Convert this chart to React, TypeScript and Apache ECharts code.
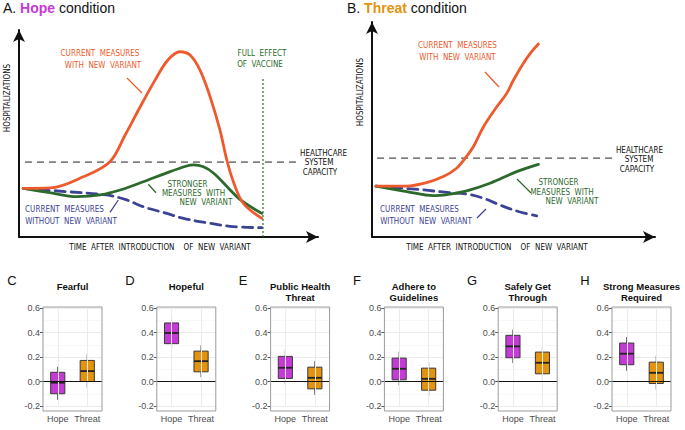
import React, { useEffect, useRef } from "react";
import * as echarts from "echarts";

// ---------- Top panels (schematic curves, time 0-100, hospitalizations 0-100) ----------
const hopeCurrentWithVariant = [
  [1.4, 23.5], [10.4, 23.7], [21.5, 29.1], [30.4, 36.4], [35.5, 49.3], [40.5, 62.8],
  [45.5, 75.8], [49.8, 85.5], [53.8, 89.5], [57.2, 87.9], [60.5, 80.7], [63.9, 67.8],
  [67.2, 51.7], [69.5, 37.2], [71.7, 26.7], [75.0, 16.3], [81.2, 9.0],
];
const hopeStrongerWithVariant = [
  [1.4, 23.5], [10.4, 21.4], [19.3, 19.5], [27.1, 20.3], [33.8, 22.7], [41.6, 26.7],
  [49.4, 31.0], [56.1, 34.3], [58.4, 34.8], [61.7, 33.9], [65.1, 30.8], [69.6, 24.3],
  [74.1, 17.9], [81.2, 11.4],
];
const hopeCurrentWithoutVariant = [
  [1.4, 23.5], [16.0, 21.9], [29.3, 20.3], [36.0, 17.9], [41.6, 14.6], [49.4, 11.4],
  [55.0, 9.0], [63.9, 6.6], [71.7, 5.0], [81.2, 4.5],
];
const hopeCapacity = [[2.0, 36.2], [93.3, 36.2]];
const hopeVaccine = [[81.6, 0], [81.6, 77.3]];

const threatCurrentWithVariant = [
  [1.4, 23.7], [12.3, 23.7], [19.3, 25.3], [25.2, 28.1], [29.9, 32.0], [32.9, 36.6],
  [35.8, 42.0], [39.4, 51.3], [44.1, 60.6], [47.6, 66.8], [50.0, 73.0], [53.5, 80.8],
  [56.4, 86.2], [58.8, 89.8],
];
const threatStrongerWithVariant = [
  [1.4, 23.7], [12.3, 21.1], [21.7, 19.2], [27.6, 20.0], [33.5, 21.5], [41.7, 25.0],
  [51.1, 30.4], [58.8, 33.8],
];
const threatCurrentWithoutVariant = [
  [1.4, 23.7], [18.1, 21.9], [27.6, 20.6], [33.5, 20.0], [39.4, 18.0], [45.2, 14.9],
  [51.1, 12.1], [58.2, 9.8],
];
const threatCapacity = [[1.8, 36.7], [85.2, 36.7]];

// ---------- Bottom panels (boxplots: [lower whisker, Q1, median, Q3, upper whisker]) ----------
const conditions = ["Hope", "Threat"];
const panelLetters = ["C", "D", "E", "F", "G", "H"];
const panelTitles = [
  "Fearful",
  "Hopeful",
  "Public Health\nThreat",
  "Adhere to\nGuidelines",
  "Safely Get\nThrough",
  "Strong Measures\nRequired",
];
const hopeStats = [
  [-0.15, -0.1, -0.01, 0.075, 0.12],
  [0.262, 0.309, 0.396, 0.478, 0.522],
  [-0.025, 0.025, 0.112, 0.205, 0.254],
  [-0.033, 0.014, 0.104, 0.191, 0.243],
  [0.15, 0.194, 0.287, 0.377, 0.424],
  [0.088, 0.137, 0.227, 0.314, 0.363],
];
const threatStats = [
  [-0.05, 0.0, 0.085, 0.172, 0.225],
  [0.035, 0.079, 0.166, 0.248, 0.295],
  [-0.109, -0.06, 0.03, 0.117, 0.166],
  [-0.12, -0.071, 0.022, 0.109, 0.158],
  [0.011, 0.063, 0.153, 0.24, 0.289],
  [-0.066, -0.016, 0.071, 0.158, 0.211],
];
const yTicks = { min: -0.2, max: 0.6, interval: 0.2 };

const HOPE = "#c53bd6";
const THREAT = "#e3930e";
const RED = "#ee5a2c";
const GREEN = "#2c6a2c";
const BLUE = "#3d4394";
const HAND = "'Liberation Sans Narrow', 'DejaVu Sans Condensed', 'Roboto Condensed', 'DejaVu Sans', sans-serif";
const SANS = "'Liberation Sans', Arial, Helvetica, sans-serif";

function handText(text: string, x: number, y: number, fill: string, extra: any = {}) {
  return {
    type: "text",
    x,
    y,
    silent: true,
    style: {
      text,
      fill,
      font: `8px ${HAND}`,
      align: "center",
      verticalAlign: "middle",
      ...extra,
    },
  };
}
function pointer(x1: number, y1: number, x2: number, y2: number, stroke: string) {
  return {
    type: "line",
    silent: true,
    shape: { x1, y1, x2, y2 },
    style: { stroke, lineWidth: 1.3 },
  };
}

export default function App() {
  const ref = useRef<HTMLDivElement>(null);
  useEffect(() => {
    if (!ref.current) return;
    const chart = echarts.init(ref.current, undefined, { renderer: "svg" });

    const grids: any[] = [
      { left: 19, top: 30, width: 299, height: 207 },
      { left: 372, top: 22, width: 283, height: 215 },
    ];
    const arrowAxis = {
      show: true,
      lineStyle: { color: "#111", width: 2 },
      symbol: ["none", "arrow"],
      symbolSize: [9, 12],
    };
    const xAxes: any[] = [0, 1].map((g) => ({
      type: "value", gridIndex: g, min: 0, max: 100,
      axisLine: arrowAxis, axisTick: { show: false }, axisLabel: { show: false }, splitLine: { show: false },
    }));
    const yAxes: any[] = [0, 1].map((g) => ({
      type: "value", gridIndex: g, min: 0, max: 100,
      axisLine: arrowAxis, axisTick: { show: false }, axisLabel: { show: false }, splitLine: { show: false },
    }));

    const curve = (g: number, data: number[][], color: string, dashed = false) => ({
      type: "line", xAxisIndex: g, yAxisIndex: g, data, smooth: 0.35, symbol: "none",
      lineStyle: { color, width: 2.8, type: dashed ? [10, 6] : "solid", cap: "round" },
      silent: true,
    });
    const series: any[] = [
      { type: "line", xAxisIndex: 0, yAxisIndex: 0, data: hopeCapacity, symbol: "none", silent: true,
        lineStyle: { color: "#222", width: 1, type: [7, 5] } },
      { type: "line", xAxisIndex: 0, yAxisIndex: 0, data: hopeVaccine, symbol: "none", silent: true,
        lineStyle: { color: GREEN, width: 1.2, type: [2, 2] } },
      curve(0, hopeCurrentWithoutVariant, BLUE, true),
      curve(0, hopeStrongerWithVariant, GREEN),
      curve(0, hopeCurrentWithVariant, RED),
      { type: "line", xAxisIndex: 1, yAxisIndex: 1, data: threatCapacity, symbol: "none", silent: true,
        lineStyle: { color: "#222", width: 1, type: [7, 5] } },
      curve(1, threatCurrentWithoutVariant, BLUE, true),
      curve(1, threatStrongerWithVariant, GREEN),
      curve(1, threatCurrentWithVariant, RED),
    ];

    const graphic: any[] = [
      {
        type: "text", x: 3, y: 1, silent: true,
        style: {
          text: "{a|A. }{h|Hope}{a| condition}",
          rich: {
            a: { font: `14px ${SANS}`, fill: "#111" },
            h: { font: `bold 14px ${SANS}`, fill: HOPE },
          },
        },
      },
      {
        type: "text", x: 347, y: 1, silent: true,
        style: {
          text: "{a|B. }{h|Threat}{a| condition}",
          rich: {
            a: { font: `14px ${SANS}`, fill: "#111" },
            h: { font: `bold 14px ${SANS}`, fill: THREAT },
          },
        },
      },
      // axis titles
      { ...handText("HOSPITALIZATIONS", 7, 98, "#111"), rotation: Math.PI / 2 },
      { ...handText("HOSPITALIZATIONS", 360, 92, "#111"), rotation: Math.PI / 2 },
      handText("TIME  AFTER  INTRODUCTION    OF  NEW  VARIANT", 160, 247, "#111"),
      handText("TIME  AFTER  INTRODUCTION    OF  NEW  VARIANT", 497, 247, "#111"),
      // Panel A annotations
      handText("CURRENT  MEASURES", 100, 53, RED),
      handText("WITH  NEW  VARIANT", 103, 65, RED),
      pointer(127, 78, 142, 93, RED),
      handText("FULL  EFFECT", 262, 53, GREEN),
      handText("OF  VACCINE", 260, 64, GREEN),
      handText("HEALTHCARE", 300, 153, "#111", { align: "left" }),
      handText("SYSTEM", 319, 162.5, "#111"),
      handText("CAPACITY", 320, 172, "#111"),
      handText("STRONGER", 187.5, 184, GREEN),
      handText("MEASURES  WITH", 193.5, 193.5, GREEN),
      handText("NEW  VARIANT", 206, 202.5, GREEN),
      pointer(148.3, 184.3, 156, 192.7, GREEN),
      handText("CURRENT  MEASURES", 64.5, 209.5, BLUE),
      handText("WITHOUT  NEW  VARIANT", 71, 221, BLUE),
      pointer(118.3, 200, 110, 212.3, BLUE),
      // Panel B annotations
      handText("CURRENT  MEASURES", 457.5, 45, RED),
      handText("WITH  NEW  VARIANT", 457.5, 57, RED),
      pointer(485, 72, 499, 87, RED),
      handText("HEALTHCARE", 639.5, 150, "#111"),
      handText("SYSTEM", 639, 159.5, "#111"),
      handText("CAPACITY", 637, 169, "#111"),
      handText("STRONGER", 558.5, 182, GREEN),
      handText("MEASURES  WITH", 562, 192, GREEN),
      handText("NEW  VARIANT", 572, 201, GREEN),
      pointer(517, 179, 531, 193, GREEN),
      handText("CURRENT  MEASURES", 419.5, 209, BLUE),
      handText("WITHOUT  NEW  VARIANT", 426, 221, BLUE),
      pointer(486, 209, 477, 218, BLUE),
    ];

    // Bottom boxplot panels
    const letterX = [12, 130, 243, 357, 472, 585];
    panelTitles.forEach((title, i) => {
      const left = 43 + i * 113.8;
      const width = 59;
      const gi = grids.length;
      grids.push({ left, top: 308, width, height: 98 });
      xAxes.push({
        type: "category", gridIndex: gi, data: conditions, offset: 5,
        axisLine: { show: false },
        axisTick: { show: true, alignWithLabel: true, length: 3, lineStyle: { color: "#555" } },
        axisLabel: { color: "#4d4d4d", fontSize: 9, fontFamily: SANS, margin: 3, interval: 0, hideOverlap: false },
        splitLine: { show: false },
      });
      yAxes.push({
        type: "value", gridIndex: gi, min: yTicks.min, max: yTicks.max, interval: yTicks.interval,
        axisLine: { show: false },
        axisTick: { show: true, length: 3, lineStyle: { color: "#555" } },
        axisLabel: { color: "#4d4d4d", fontSize: 9, fontFamily: SANS, margin: 3, formatter: (v: number) => v.toFixed(1) },
        splitLine: { show: true, lineStyle: { color: "#ebebeb", width: 1 } },
        minorTick: { show: false, splitNumber: 2 },
        minorSplitLine: { show: true, lineStyle: { color: "#f3f3f3", width: 0.6 } },
      });
      // vertical grid lines at categories
      series.push({
        type: "line", xAxisIndex: gi, yAxisIndex: gi, data: [], z: 1, silent: true,
        markLine: {
          silent: true, symbol: "none", label: { show: false },
          lineStyle: { color: "#ebebeb", width: 1, type: "solid" },
          data: conditions.map((c) => ({ xAxis: c })),
        },
      });
      series.push({
        type: "custom", xAxisIndex: gi, yAxisIndex: gi, z: 3, silent: true,
        data: [[0, ...hopeStats[i]], [1, ...threatStats[i]]],
        encode: { x: 0, y: [1, 2, 3, 4, 5] },
        renderItem: (params: any, api: any) => {
          const idx = api.value(0);
          const lo = api.coord([idx, api.value(1)]);
          const q1 = api.coord([idx, api.value(2)]);
          const med = api.coord([idx, api.value(3)]);
          const q3 = api.coord([idx, api.value(4)]);
          const hi = api.coord([idx, api.value(5)]);
          const bw = api.size([1, 0])[0] * 0.48;
          const cx = med[0];
          const fill = params.dataIndex === 0 ? HOPE : THREAT;
          const edge = "#3a3a3a";
          return {
            type: "group",
            children: [
              { type: "line", shape: { x1: cx, y1: hi[1], x2: cx, y2: q3[1] }, style: { stroke: edge, lineWidth: 1 } },
              { type: "line", shape: { x1: cx, y1: q1[1], x2: cx, y2: lo[1] }, style: { stroke: edge, lineWidth: 1 } },
              { type: "rect", shape: { x: cx - bw / 2, y: q3[1], width: bw, height: q1[1] - q3[1] },
                style: { fill, stroke: edge, lineWidth: 1 } },
              { type: "line", shape: { x1: cx - bw / 2, y1: med[1], x2: cx + bw / 2, y2: med[1] },
                style: { stroke: "#222", lineWidth: 1.8 } },
            ],
          };
        },
      });
      // zero reference line on top
      series.push({
        type: "line", xAxisIndex: gi, yAxisIndex: gi, data: [], z: 5, silent: true,
        markLine: {
          silent: true, symbol: "none", label: { show: false },
          lineStyle: { color: "#111", width: 1.1, type: "solid" },
          data: [{ yAxis: 0 }],
        },
      });
      // panel border
      graphic.push({
        type: "rect", silent: true, z: 10,
        shape: { x: left, y: 307, width, height: 104 },
        style: { fill: "none", stroke: "#9a9a9a", lineWidth: 1 },
      });
      graphic.push({
        type: "text", silent: true, x: letterX[i], y: 280,
        style: { text: panelLetters[i], font: `13px ${SANS}`, fill: "#111", align: "center", verticalAlign: "middle" },
      });
      graphic.push({
        type: "text", silent: true, x: left + width / 2, y: 280.5,
        style: {
          text: title, font: `bold 9.5px ${SANS}`, fill: "#111", align: "center", verticalAlign: "top", lineHeight: 11,
        },
      });
    });

    chart.setOption({
      animation: false,
      backgroundColor: "#fff",
      grid: grids,
      xAxis: xAxes,
      yAxis: yAxes,
      series,
      graphic,
    });
    return () => chart.dispose();
  }, []);
  return <div ref={ref} style={{ position: "fixed", left: 0, top: 0, width: 685, height: 430 }} />;
}
